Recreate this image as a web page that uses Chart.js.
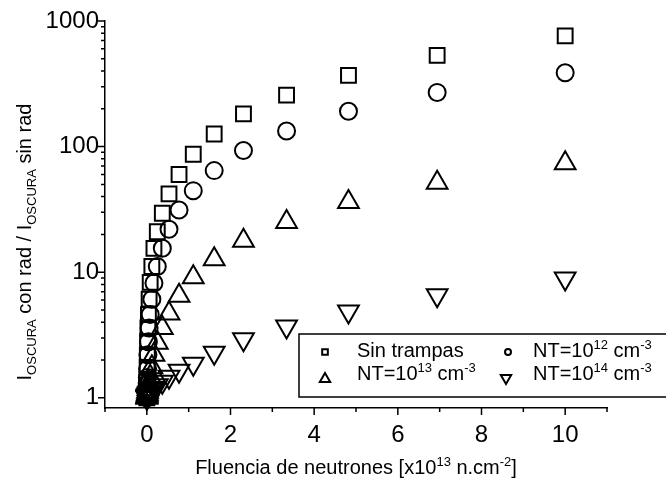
<!DOCTYPE html>
<html>
<head>
<meta charset="utf-8">
<script src="https://cdn.jsdelivr.net/npm/chart.js@4"></script>
<style>
  html, body { margin: 0; padding: 0; background: #fff; }
  #chart { display: block; }
</style>
</head>
<body>
<canvas id="chart" width="666" height="479"></canvas>
<script>
// fluence steps (x10^13 n.cm^-2), shared by the four curves
const fluence = [0, 0.002, 0.004, 0.008, 0.012, 0.018, 0.026, 0.038, 0.055, 0.08, 0.12, 0.17, 0.25, 0.37, 0.53, 0.77, 1.11, 1.61, 2.31, 3.34, 4.82, 6.94, 10];
const sinTrampas = [1.0, 1.15, 1.4, 1.75, 2.2, 2.8, 3.6, 4.6, 6.1, 8.3, 11.1, 15.5, 21, 29.5, 42, 60, 87, 126, 182, 257, 369, 532, 762];
const nt12 = [1.0, 1.05, 1.15, 1.3, 1.45, 1.7, 2.2, 2.8, 3.6, 4.6, 6.1, 8.2, 11.1, 15.5, 22, 31.3, 44.6, 64.4, 93, 133, 191, 270, 387];
const nt13 = [1.0, 1.02, 1.03, 1.05, 1.08, 1.12, 1.17, 1.24, 1.32, 1.47, 1.75, 2.2, 2.75, 3.6, 4.7, 6.5, 9.1, 12.7, 17.8, 25.1, 36.2, 51.5, 73.6];
const nt14 = [1.0, 1.01, 1.02, 1.03, 1.04, 1.05, 1.07, 1.09, 1.11, 1.13, 1.16, 1.2, 1.26, 1.34, 1.47, 1.64, 1.87, 2.29, 2.93, 3.7, 4.86, 6.55, 8.9];

const xTicks = [0, 2, 4, 6, 8, 10];
const xMinorTicks = [-1, 1, 3, 5, 7, 9, 11];
const yTicks = [1, 10, 100, 1000];

const FONT = "'Liberation Sans', Arial, sans-serif";

function pts(ys) {
  return fluence.map((x, i) => ({ x: x, y: ys[i] }));
}

// text with superscripts / subscripts: parts = [[text, 'n'|'sup'|'sub'], ...]
function partFont(kind, size) {
  return (kind === 'n' ? size : Math.round(size * 0.64)) + 'px ' + FONT;
}
function richWidth(ctx, parts, size) {
  let w = 0;
  parts.forEach(p => { ctx.font = partFont(p[1], size); w += ctx.measureText(p[0]).width; });
  return w;
}
function drawRich(ctx, parts, x, y, size, align) {
  let cx = x;
  if (align === 'center') cx = x - richWidth(ctx, parts, size) / 2;
  ctx.textBaseline = 'alphabetic';
  ctx.textAlign = 'left';
  parts.forEach(p => {
    ctx.font = partFont(p[1], size);
    let dy = 0;
    if (p[1] === 'sup') dy = -size * 0.4;
    if (p[1] === 'sub') dy = size * 0.25;
    ctx.fillText(p[0], cx, y + dy);
    cx += ctx.measureText(p[0]).width;
  });
}

const legendItems = [
  { style: 'rect', r: 4, rot: 0, mx: 325, my: 352, tx: 357, ty: 357, parts: [['Sin trampas', 'n']] },
  { style: 'circle', r: 3, rot: 0, mx: 508, my: 352, tx: 533, ty: 357, parts: [['NT=10', 'n'], ['12', 'sup'], [' cm', 'n'], ['-3', 'sup']] },
  { style: 'triangle', r: 6, rot: 0, mx: 325, my: 379, tx: 357, ty: 380, parts: [['NT=10', 'n'], ['13', 'sup'], [' cm', 'n'], ['-3', 'sup']] },
  { style: 'triangle', r: 6, rot: 180, mx: 506, my: 378, tx: 533, ty: 380, parts: [['NT=10', 'n'], ['14', 'sup'], [' cm', 'n'], ['-3', 'sup']] }
];

const decor = {
  id: 'decor',
  afterDraw(chart) {
    const ctx = chart.ctx;
    const xs = chart.scales.x, ys = chart.scales.y;
    ctx.save();
    ctx.strokeStyle = '#000';
    ctx.fillStyle = '#000';
    ctx.lineWidth = 1.5;
    // tick marks
    ctx.beginPath();
    xTicks.forEach(v => { const px = xs.getPixelForValue(v); ctx.moveTo(px, xs.top); ctx.lineTo(px, xs.top + 7); });
    xMinorTicks.forEach(v => { const px = xs.getPixelForValue(v); ctx.moveTo(px, xs.top); ctx.lineTo(px, xs.top + 4); });
    for (let d = 1; d <= 1000; d *= 10) {
      for (let m = 1; m <= 9; m++) {
        const v = d * m;
        if (v > 1000) break;
        const py = ys.getPixelForValue(v);
        ctx.moveTo(ys.right, py);
        ctx.lineTo(ys.right - (m === 1 ? 7 : 4), py);
      }
    }
    ctx.stroke();

    // axis titles
    drawRich(ctx, [['Fluencia de neutrones [x10', 'n'], ['13', 'sup'], [' n.cm', 'n'], ['-2', 'sup'], [']', 'n']],
      (xs.left + xs.right) / 2, 474, 20, 'center');
    ctx.save();
    ctx.translate(31, 242);
    ctx.rotate(-Math.PI / 2);
    drawRich(ctx, [['I', 'n'], ['OSCURA', 'sub'], [' con rad / I', 'n'], ['OSCURA', 'sub'], [' sin rad', 'n']], 0, 0, 20, 'center');
    ctx.restore();

    // legend box
    ctx.fillStyle = '#fff';
    ctx.fillRect(299, 334, 380, 63);
    ctx.lineWidth = 1.5;
    ctx.strokeRect(299, 334, 380, 63);
    legendItems.forEach(it => {
      ctx.fillStyle = 'rgba(0,0,0,0)';
      ctx.strokeStyle = '#000';
      ctx.lineWidth = 2;
      Chart.helpers.drawPoint(ctx, { pointStyle: it.style, radius: it.r, rotation: it.rot, borderWidth: 2 }, it.mx, it.my);
      ctx.fillStyle = '#000';
      drawRich(ctx, it.parts, it.tx, it.ty, 20, 'left');
    });
    ctx.restore();
  }
};

function ds(label, ys, style, r, rot) {
  return {
    label: label,
    data: pts(ys),
    pointStyle: style,
    pointRadius: r,
    pointRotation: rot,
    pointBorderWidth: 2,
    pointBorderColor: '#000',
    pointBackgroundColor: 'rgba(0,0,0,0)',
    showLine: false,
    clip: false
  };
}

new Chart(document.getElementById('chart'), {
  type: 'scatter',
  data: {
    datasets: [
      ds('Sin trampas', sinTrampas, 'rect', 10.5, 0),
      ds('NT=1e12', nt12, 'circle', 8.5, 0),
      ds('NT=1e13', nt13, 'triangle', 12, 0),
      ds('NT=1e14', nt14, 'triangle', 12, 180)
    ]
  },
  options: {
    responsive: false,
    animation: false,
    devicePixelRatio: 1,
    layout: { padding: { left: 0, top: 21, right: 59, bottom: 0 } },
    plugins: { legend: { display: false }, tooltip: { enabled: false } },
    scales: {
      x: {
        type: 'linear',
        min: -1,
        max: 11,
        afterBuildTicks: s => { s.ticks = xTicks.map(v => ({ value: v })); },
        afterFit: s => { s.height = 71; },
        grid: { display: false, drawTicks: false },
        border: { display: true, color: '#000', width: 1.5 },
        ticks: { color: '#000', padding: 13, font: { family: FONT, size: 24 }, maxRotation: 0 }
      },
      y: {
        type: 'logarithmic',
        min: 0.83,
        max: 1000,
        afterBuildTicks: s => { s.ticks = yTicks.map(v => ({ value: v })); },
        afterFit: s => { s.width = 105; },
        grid: { display: false, drawTicks: false },
        border: { display: true, color: '#000', width: 1.5 },
        ticks: { color: '#000', padding: 6, font: { family: FONT, size: 24 }, callback: v => String(v) }
      }
    }
  },
  plugins: [decor]
});
</script>
</body>
</html>
